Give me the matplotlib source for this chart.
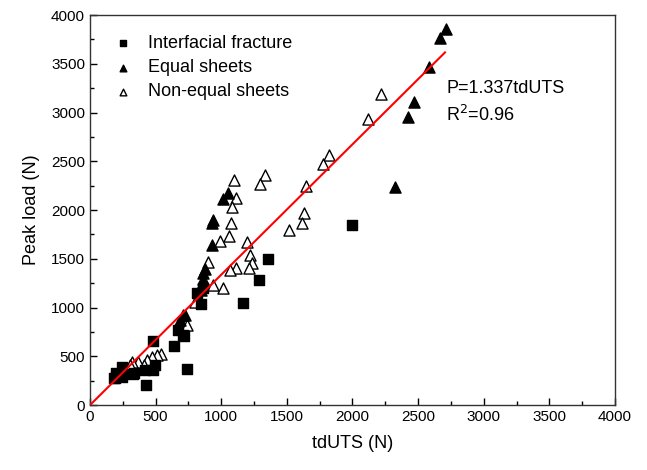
import numpy as np
import matplotlib
matplotlib.use("Agg")
import matplotlib.pyplot as plt
from matplotlib.ticker import MultipleLocator

plt.rcParams['font.family'] = ['Liberation Sans', 'DejaVu Sans']

# Interfacial fracture (filled squares)
if_x = [198, 183, 244, 244, 190, 335, 427, 480, 495, 480, 419, 328, 640, 670, 716, 709,
        739, 815, 846, 860, 1166, 1288, 1356, 2000]
if_y = [328, 277, 390, 287, 277, 328, 205, 657, 410, 359, 359, 318, 605, 775, 708, 718,
        369, 1149, 1036, 1200, 1046, 1283, 1498, 1847]

# Equal sheets (filled triangles)
eq_x = [2713, 2667, 2583, 2469, 2423, 2324, 1052, 1013, 937, 930, 930, 880, 865, 860, 850,
        845, 724, 709, 686]
eq_y = [3858, 3765, 3468, 3109, 2955, 2237, 2175, 2114, 1898, 1867, 1641, 1400, 1350, 1290,
        1240, 1180, 923, 923, 872]

# Non-equal sheets (open triangles)
ne_x = [2217, 2118, 1821, 1776, 1646, 1631, 1616, 1516, 1334, 1295, 1097, 1112, 1082, 1074,
        1059, 990, 1196, 1219, 1234, 1211, 1112, 1067, 899, 937, 1013, 800, 739, 541, 511,
        472, 434, 411, 366, 320, 305, 250]
ne_y = [3191, 2934, 2565, 2473, 2247, 1970, 1867, 1795, 2360, 2268, 2309, 2124, 2032, 1867,
        1734, 1683, 1672, 1539, 1457, 1406, 1406, 1385, 1467, 1231, 1200, 1057, 821, 523, 513,
        492, 462, 410, 441, 441, 410, 380]

slope = 1.337
fit_x = np.array([0, 2705])

fig = plt.figure(figsize=(6.47, 4.70), dpi=100)
ax = fig.add_axes([0.139, 0.138, 0.8115, 0.830])

ax.scatter(if_x, if_y, marker='s', s=42, color='black', label='Interfacial fracture', zorder=3)
ax.scatter(eq_x, eq_y, marker='^', s=64, color='black', label='Equal sheets', zorder=3)
ax.scatter(ne_x, ne_y, marker='^', s=64, facecolor='white', edgecolor='black', linewidth=1,
           label='Non-equal sheets', zorder=2)
ax.plot(fit_x, slope * fit_x, color='red', lw=1.5, zorder=4)

ax.text(2713, 3250, 'P=1.337tdUTS', fontsize=13, va='center')
ax.text(2713, 2975, r'R$^2$=0.96', fontsize=13, va='center')

ax.set_xlim(0, 4000)
ax.set_ylim(0, 4000)
ax.xaxis.set_major_locator(MultipleLocator(500))
ax.xaxis.set_minor_locator(MultipleLocator(250))
ax.yaxis.set_major_locator(MultipleLocator(500))
ax.yaxis.set_minor_locator(MultipleLocator(250))
ax.tick_params(which='both', direction='in', top=False, right=False, labelsize=11, width=1)
ax.tick_params(which='major', length=5)
ax.tick_params(which='minor', length=3)
for sp in ax.spines.values():
    sp.set_color('#333333')
    sp.set_linewidth(1)

ax.set_xlabel('tdUTS (N)', fontsize=13, labelpad=8)
ax.set_ylabel('Peak load (N)', fontsize=13, labelpad=8)

ax.legend(loc='upper left', frameon=False, fontsize=13, markerscale=0.6,
          handlelength=1.2, handletextpad=0.8, borderaxespad=0.6, labelspacing=0.4,
          bbox_to_anchor=(0.008, 0.995))

fig.savefig('out.png', dpi=100)
